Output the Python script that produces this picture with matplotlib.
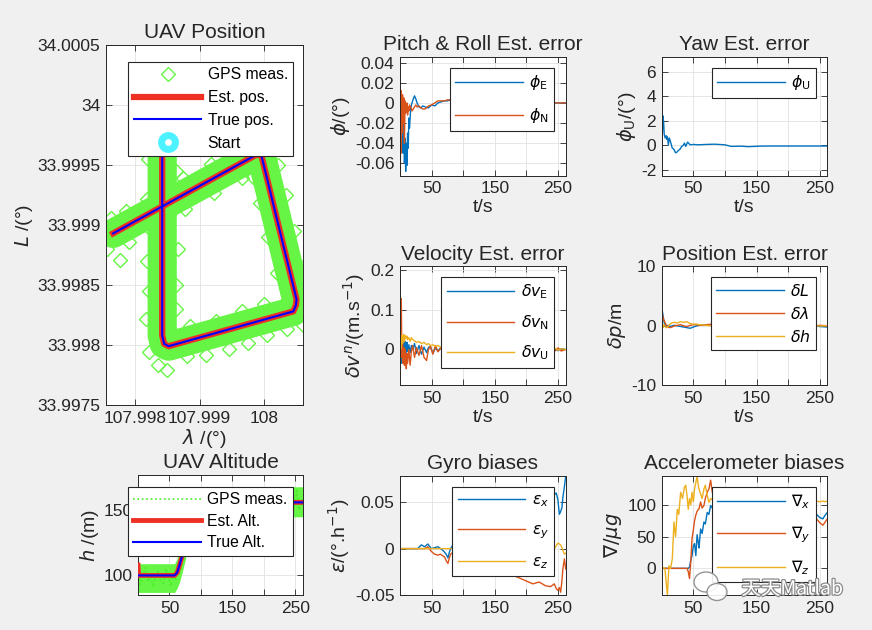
import matplotlib
matplotlib.use('Agg')
import matplotlib.pyplot as plt
import matplotlib.patheffects as pe
from matplotlib.patches import Ellipse

plt.rcParams['font.family'] = ['Liberation Sans', 'DejaVu Sans']
plt.rcParams['mathtext.fontset'] = 'dejavusans'

# ---------------- data ----------------
T_END = 262
time_ticks = [50, 100, 150, 200, 250]
time_tick_labels = ['50', '', '150', '', '250']

# UAV position (deg)
true_lon = [107.99842, 107.99842, 107.99845, 107.99852, 108.00045, 108.00049,
            108.00050, 107.99996, 107.99991, 107.99986, 107.99766]
true_lat = [33.99990, 33.99808, 33.99801, 33.99799, 33.99828, 33.99833,
            33.99838, 33.99957, 33.99959, 33.99958, 33.99893]
est_lon = true_lon
est_lat = true_lat
start_lon = [107.99842]
start_lat = [33.99990]
gps_lon = [107.99820, 107.99864, 107.99818, 107.99866, 107.99822, 107.99864, 107.99817, 107.99863,
           107.99821, 107.99836, 107.99850,
           107.99880, 107.99910, 107.99945, 107.99975, 108.00005, 108.00035,
           107.99885, 107.99925, 107.99965, 108.00000,
           108.00065, 108.00060, 108.00068,
           108.00060, 108.00020, 108.00046, 108.00006, 108.00033, 107.99993, 108.00022, 107.99983,
           108.00006, 107.99990,
           107.99962, 107.99966, 107.99918, 107.99922, 107.99874, 107.99878,
           107.99818, 107.99824, 107.99786, 107.99790, 107.99753, 107.99757, 107.99762, 107.99776]
gps_lat = [33.99955, 33.99945, 33.99870, 33.99880, 33.99845, 33.99850, 33.99822, 33.99830,
           33.99794, 33.99783, 33.99779,
           33.99791, 33.99792, 33.99797, 33.99802, 33.99808, 33.99813,
           33.99816, 33.99820, 33.99828, 33.99834,
           33.99827, 33.99817, 33.99845,
           33.99865, 33.99860, 33.99895, 33.99890, 33.99925, 33.99918, 33.99950, 33.99940,
           33.99970, 33.99976,
           33.99964, 33.99939, 33.99951, 33.99927, 33.99939, 33.99913,
           33.99922, 33.99896, 33.99912, 33.99886, 33.99895, 33.99880, 33.99906, 33.99871]
pos_xticks = [107.998, 107.999, 108.0]
pos_xtick_labels = ['107.998', '107.999', '108']
pos_yticks = [33.9975, 33.998, 33.9985, 33.999, 33.9995, 34.0, 34.0005]
pos_ytick_labels = ['33.9975', '33.998', '33.9985', '33.999', '33.9995', '34', '34.0005']

# UAV altitude (m)
alt_t = [0, 1, 2, 58, 62, 66, 70, 75, 80, 85, 90, 95, 262]
alt_true = [100, 100, 100, 100, 102, 108, 115, 125, 136, 146, 153, 156, 156]
alt_est = [108, 100.5, 100, 100, 102, 108, 115, 125, 136, 146, 153, 156, 156]
gps_alt_t = [0, 4, 8, 12, 16, 20, 24, 28, 32, 36, 40, 44, 48, 52, 56, 60, 64, 68, 72, 76,
             80, 85, 90, 95, 100, 110, 120, 130, 150, 170, 190, 210, 230, 240, 244, 248, 252, 256, 260, 262]
gps_alt = [104, 93, 99, 106, 95, 101, 91, 98, 103, 96, 94, 105, 99, 92, 102, 97, 110, 104, 121, 118,
           140, 139, 158, 150, 163, 148, 160, 153, 166, 149, 158, 151, 162, 147, 160, 152, 165, 150, 158, 154]
gps_band_t = [0, 58, 62, 66, 70, 75, 80, 85, 90, 95, 262]
gps_band_lo = [87, 87, 90, 95, 102, 112, 123, 133, 141, 144, 145]
gps_band_hi = [109, 109, 113, 120, 128, 138, 149, 158, 165, 168, 168]

# Pitch & roll error (deg)
pr_t = [0, 0.5, 1, 1.5, 2, 3, 4, 5, 6, 7, 8, 9, 10, 11, 12, 13, 14, 15, 17, 19,
        21, 23, 25, 27, 30, 33, 36, 40, 45, 50, 55, 60, 65, 70, 75, 80, 100, 150, 200, 240, 262]
phi_E = [0, -0.01, -0.03, 0.002, -0.02, -0.045, -0.01, -0.05, -0.02, -0.06,
         -0.035, -0.068, -0.04, -0.062, -0.03, -0.045, -0.015, -0.025, -0.005, 0.0,
         0.004, 0.007, 0.004, 0.0, -0.004, -0.005, -0.003, -0.004, -0.005, -0.002,
         -0.003, 0.0, 0.001, 0.002, 0.002, 0.003, 0.001, 0.0, 0.0, 0.0, 0.0]
phi_N = [0.045, -0.072, 0.01, -0.05, 0.012, -0.03, 0.008, -0.02, 0.005, -0.04,
         0.002, -0.01, -0.005, 0.0, -0.012, -0.004, -0.008, -0.002, -0.004, -0.008,
         -0.006, -0.004, -0.002, -0.004, -0.003, -0.005, -0.006, -0.006, -0.003, -0.002,
         0.0, 0.002, 0.002, 0.002, 0.003, 0.003, 0.001, 0.0, 0.0, 0.0, 0.0]

# Yaw error (deg)
yaw_t = [0, 0.3, 0.6, 1, 2, 3, 4, 5.5, 7, 8, 9, 10.5, 12, 13, 15, 16.6, 19, 22, 24, 26,
         29, 31.6, 34, 36, 38, 41, 45, 50, 58, 70, 84, 100, 110, 125, 137, 160, 200, 230, 262]
phi_U = [7.2, -2.5, 2.6, 1.0, 2.4, 1.9, 0.9, 0.6, 0.8, 0.5, 0.7, 0.05, 0.6, 0.46, 0.1, -0.2, -0.3,
         -0.6, -0.55, -0.43, -0.3, -0.08, 0.0, 0.19, -0.08, 0.27, 0.05, 0.08, 0.05, 0.08,
         0.1, 0.05, -0.08, -0.06, -0.1, -0.05, -0.05, -0.05, -0.05]

# Velocity error (m/s)
vel_t = [0, 0.3, 0.6, 1, 2, 3, 4, 5, 6, 7, 8, 9, 10, 11, 12, 14, 16, 18, 20, 23,
         26, 30, 34, 38, 42, 45, 48, 52, 56, 60, 65, 70, 80, 100, 150, 200, 245, 250, 255, 262]
dv_E = [0, -0.04, 0.01, -0.02, 0.0, -0.035, 0.02, -0.03, 0.015, -0.01,
        0.02, -0.015, 0.005, 0.018, -0.005, 0.012, -0.008, 0.01, 0.0, 0.015,
        -0.01, 0.01, -0.012, 0.006, -0.008, 0.005, 0.008, -0.01, 0.004, -0.004,
        0.006, 0.0, 0.002, 0.0, 0.0, 0.0, 0.0, -0.003, 0.002, 0.0]
dv_N = [0, 0.05, -0.03, 0.06, 0.129, -0.02, 0.03, -0.035, 0.005, -0.04,
        0.0, -0.025, -0.049, -0.01, -0.035, 0.0, -0.04, -0.005, 0.01, -0.02,
        0.005, -0.015, 0.01, -0.02, -0.028, 0.0, 0.008, -0.012, 0.01, -0.006,
        0.004, 0.0, 0.0, 0.0, 0.0, 0.0, -0.004, 0.004, -0.004, 0.0]
dv_U = [0.21, -0.09, 0.05, 0.0, 0.02, 0.035, 0.015, 0.03, 0.038, 0.02,
        0.035, 0.03, 0.028, 0.034, 0.025, 0.03, 0.02, 0.03, 0.025, 0.022,
        0.018, 0.02, 0.015, 0.018, 0.012, 0.015, 0.01, 0.012, 0.008, 0.01,
        0.005, 0.004, 0.002, 0.0, 0.0, 0.0, 0.003, -0.002, 0.002, 0.0]

# Position error (m)
pe_t = [0, 0.5, 1, 2, 3, 4, 5, 6, 8, 10, 13, 16, 20, 25, 30, 35, 40, 45, 50, 55,
        60, 70, 80, 100, 150, 200, 240, 250, 262]
dL = [0, 0.5, 2.5, 1.8, 1.2, 0.5, 0.3, 0.0, -0.2, 0.1, -0.1, 0.0, 0.1, 0.0, -0.1,
      -0.2, -0.3, -0.4, -0.2, 0.0, 0.1, 0.2, 0.1, 0.0, 0.0, 0.0, 0.0, -0.1, -0.2]
dlam = [8.2, 3.0, 2.0, 1.5, 1.0, 0.9, 0.6, 0.4, 0.0, -0.2, -0.3, -0.2, 0.0, 0.1, 0.2,
        0.0, -0.1, 0.1, 0.2, 0.2, 0.1, 0.2, 0.3, 0.1, 0.0, 0.0, 0.0, 0.1, 0.0]
dh = [7.0, 1.0, 0.0, -0.3, 0.2, 0.1, 0.0, -0.2, -0.3, -0.1, 0.3, 0.5, 0.6, 0.5, 0.7,
      0.6, 0.7, 0.4, 0.3, 0.3, 0.2, 0.1, 0.0, 0.0, 0.0, 0.0, 0.0, 0.0, 0.0]

# Gyro biases (deg/h)
g_t = [0, 28, 33.7, 39, 44, 49.5, 54.7, 60, 64, 68, 70.5, 73, 75.8, 78, 80, 83.7, 86,
       100, 150, 200, 210, 220, 230, 238, 244, 247, 249.6, 252, 254, 256, 257.5, 260, 262]
eps_x = [0, 0, 0.004, 0.002, 0.005, 0.0, 0.001, 0.002, 0.0, -0.002,
         -0.004, -0.006, -0.01, -0.004, 0.0, 0.004, 0.007, 0.02, 0.04, 0.05,
         0.052, 0.055, 0.057, 0.06, 0.058, 0.06, 0.053, 0.037, 0.04, 0.044,
         0.055, 0.067, 0.078]
eps_y = [0, 0, 0.0, 0.0, 0.002, -0.003, -0.006, -0.007, -0.006, -0.008,
         -0.009, -0.013, -0.016, -0.01, -0.006, -0.004, -0.005, -0.01, -0.02, -0.035,
         -0.038, -0.036, -0.04, -0.041, -0.038, -0.043, -0.045, -0.042, -0.047, -0.035,
         -0.022, -0.011, -0.022]
eps_z = [0, 0, 0, 0, 0, 0, 0, 0, 0, 0, 0, 0, 0, 0, 0, 0, 0, 0, 0, 0, 0, 0, 0, 0, 0,
         0.003, 0.006, 0.005, 0.004, 0.001, -0.002, -0.006, -0.005]

# Accelerometer biases (ug)
a_t = [0, 5, 9, 11.5, 14, 16.8, 19.4, 22, 24.7, 27, 30, 33, 36, 38, 40, 42, 44, 46, 48, 50,
       52, 54, 56, 58, 59, 61.6, 64, 66.8, 69, 72, 74.7, 77.4, 80, 100, 150, 200,
       245, 250, 255, 258, 262]
nab_x = [0, 0, 0, 0, 0, 0, 0, 0, 0, 0, 0, 0, 0, 0, 0, 0, 2, 13, 20, 35,
         39, 20, 53, 40, 32, 62, 55, 73, 70, 88, 85, 99, 95, 95, 90, 88, 85, 80, 78, 83, 88]
nab_y = [0, 0, 0, 0, 0, 0, 0, 0, 0, 0, 0, 0, 0, 0, 0, -5, -16, 10, 47, 60,
         75, 84, 90, 93, 93.5, 104.6, 95, 99, 110, 120, 125, 139, 120, 100, 90, 85, 78, 72, 68, 72, 78]
nab_z = [2, 0, -42, 4, 0, 15, 73, 50, 93, 85, 120, 110, 128, 131, 115, 93, 110, 100, 120, 105,
         125, 135, 145.6, 130, 125, 117, 110, 125, 131, 115, 104, 110, 108, 105, 106, 106,
         106, 105, 106, 105, 106]

# ---------------- style ----------------
C_BLUE, C_ORANGE, C_YELLOW = '#0072BD', '#D95319', '#EDB120'
TXT = '#262626'
TICK_FS, LAB_FS, TTL_FS, LEG_FS = 12.5, 14, 15, 11.3
W, H = 872, 630


def rect(l, t, r, b):
    return [l / W, 1 - b / H, (r - l) / W, (b - t) / H]


def style(ax):
    ax.set_facecolor('white')
    for s in ax.spines.values():
        s.set_color(TXT)
        s.set_linewidth(0.7)
    ax.tick_params(direction='in', top=True, right=True, length=4, width=0.6,
                   colors=TXT, labelsize=TICK_FS, pad=4)
    ax.grid(True, color='#e2e2e2', lw=0.6)
    ax.set_axisbelow(True)


def legend(ax, handles, labels, ur_px, spacing, hl=4.3):
    leg = ax.legend(handles, labels, loc='upper right',
                    bbox_to_anchor=(ur_px[0] / W, 1 - ur_px[1] / H),
                    bbox_transform=fig.transFigure, borderaxespad=0,
                    fontsize=LEG_FS, frameon=True, fancybox=False,
                    edgecolor=TXT, framealpha=1, handlelength=hl,
                    handletextpad=0.4, borderpad=0.35, labelspacing=spacing)
    leg.get_frame().set_linewidth(0.8)
    leg.set_zorder(10)
    return leg


def time_axes(ax, ylim, yticks, ylabels, title, ylabel, show_xlabel=True):
    style(ax)
    ax.set_xlim(0, T_END)
    ax.set_ylim(*ylim)
    ax.set_xticks(time_ticks)
    ax.set_xticklabels(time_tick_labels)
    ax.set_yticks(yticks)
    ax.set_yticklabels(ylabels)
    ax.set_title(title, fontsize=TTL_FS, color=TXT, pad=5)
    ax.set_ylabel(ylabel, fontsize=LAB_FS, color=TXT, labelpad=2)
    if show_xlabel:
        ax.set_xlabel('t/s', fontsize=LAB_FS, color=TXT, labelpad=2)


fig = plt.figure(figsize=(8.72, 6.30), dpi=100, facecolor='#f0f0f0')

# ---- UAV Position ----
ax = fig.add_axes(rect(106, 45, 303, 405))
style(ax)
ax.plot(true_lon, true_lat, color='#66f545', lw=21, solid_capstyle='round',
        solid_joinstyle='round', zorder=2)
h_gps, = ax.plot(gps_lon, gps_lat, ls='none', marker='D', ms=7, mfc='none',
                 mec='#66f545', mew=1.0, zorder=2)
h_est, = ax.plot(est_lon, est_lat, color='#ee3024', lw=4.5, zorder=3)
h_true, = ax.plot(true_lon, true_lat, color='#0000ff', lw=1.5, zorder=4)
h_start, = ax.plot(start_lon, start_lat, ls='none', marker='o', ms=10, mfc='none',
                   mec='#4cf2ff', mew=5, zorder=4)
ax.set_xlim(107.99755, 108.0006)
ax.set_ylim(33.9975, 34.0005)
ax.set_xticks(pos_xticks)
ax.set_xticklabels(pos_xtick_labels)
ax.set_yticks(pos_yticks)
ax.set_yticklabels(pos_ytick_labels)
ax.set_title('UAV Position', fontsize=TTL_FS, color=TXT, pad=5)
ax.set_xlabel(r'$\lambda$ /(°)', fontsize=LAB_FS, color=TXT, labelpad=1)
ax.set_ylabel(r'$L$ /(°)', fontsize=LAB_FS, color=TXT, labelpad=2)
legend(ax, [h_gps, h_est, h_true, h_start],
       ['GPS meas.', 'Est. pos.', 'True pos.', 'Start'], (293.3, 61.7), 0.5)

# ---- UAV Altitude ----
ax = fig.add_axes(rect(138, 475, 303, 595))
style(ax)
ax.fill_between(gps_band_t, gps_band_lo, gps_band_hi, color='#66f545', lw=0, zorder=1)
h_ga, = ax.plot(gps_alt_t, gps_alt, color='#44ee22', ls=':', lw=1.2, zorder=2)
h_ea, = ax.plot(alt_t, alt_est, color='#ee3024', lw=3.5, zorder=3)
h_ta, = ax.plot(alt_t, alt_true, color='#0000ff', lw=1.5, zorder=4)
ax.set_xlim(0, T_END)
ax.set_ylim(85, 177)
ax.set_xticks(time_ticks)
ax.set_xticklabels(time_tick_labels)
ax.set_yticks([100, 150])
ax.set_yticklabels(['100', '150'])
ax.set_title('UAV Altitude', fontsize=TTL_FS, color=TXT, pad=5)
ax.set_ylabel(r'$h$ /(m)', fontsize=LAB_FS, color=TXT, labelpad=2)
legend(ax, [h_ga, h_ea, h_ta], ['GPS meas.', 'Est. Alt.', 'True Alt.'], (293, 487), 0.4)

# ---- Pitch & Roll ----
ax = fig.add_axes(rect(400, 57.3, 565.7, 175.7))
time_axes(ax, (-0.0723, 0.0453), [-0.06, -0.04, -0.02, 0, 0.02, 0.04],
          ['-0.06', '-0.04', '-0.02', '0', '0.02', '0.04'],
          'Pitch & Roll Est. error', r'$\phi$/(°)')
l1, = ax.plot(pr_t, phi_E, color=C_BLUE, lw=1.0)
l2, = ax.plot(pr_t, phi_N, color=C_ORANGE, lw=1.0)
legend(ax, [l1, l2], [r'$\phi_\mathrm{E}$', r'$\phi_\mathrm{N}$'], (554.3, 67.7), 0.9)

# ---- Yaw ----
ax = fig.add_axes(rect(661.7, 57.3, 827.3, 175.7))
time_axes(ax, (-2.46, 7.16), [-2, 0, 2, 4, 6], ['-2', '0', '2', '4', '6'],
          'Yaw Est. error', r'$\phi_\mathrm{U}$/(°)')
l1, = ax.plot(yaw_t, phi_U, color=C_BLUE, lw=1.0)
legend(ax, [l1], [r'$\phi_\mathrm{U}$'], (816, 67.7), 0.5)

# ---- Velocity ----
ax = fig.add_axes(rect(400, 266.5, 565.7, 385.3))
time_axes(ax, (-0.0907, 0.21), [0, 0.1, 0.2], ['0', '0.1', '0.2'],
          'Velocity Est. error', r'$\delta v^n$/(m.s$^{-1}$)')
l1, = ax.plot(vel_t, dv_E, color=C_BLUE, lw=1.0)
l2, = ax.plot(vel_t, dv_N, color=C_ORANGE, lw=1.0)
l3, = ax.plot(vel_t, dv_U, color=C_YELLOW, lw=1.0)
legend(ax, [l1, l2, l3], [r'$\delta v_\mathrm{E}$', r'$\delta v_\mathrm{N}$', r'$\delta v_\mathrm{U}$'],
       (554.3, 277.3), 0.75)

# ---- Position error ----
ax = fig.add_axes(rect(661.7, 266.5, 827.3, 385.3))
time_axes(ax, (-10, 10), [-10, 0, 10], ['-10', '0', '10'],
          'Position Est. error', r'$\delta p$/m')
l1, = ax.plot(pe_t, dL, color=C_BLUE, lw=1.0)
l2, = ax.plot(pe_t, dlam, color=C_ORANGE, lw=1.0)
l3, = ax.plot(pe_t, dh, color=C_YELLOW, lw=1.0)
legend(ax, [l1, l2, l3], [r'$\delta L$', r'$\delta \lambda$', r'$\delta h$'], (816, 277.3), 0.45)

# ---- Gyro ----
ax = fig.add_axes(rect(400, 475.7, 565.7, 595))
time_axes(ax, (-0.0495, 0.0786), [-0.05, 0, 0.05], ['-0.05', '0', '0.05'],
          'Gyro biases', r'$\epsilon$/(°.h$^{-1}$)', show_xlabel=False)
l1, = ax.plot(g_t, eps_x, color=C_BLUE, lw=1.0)
l2, = ax.plot(g_t, eps_y, color=C_ORANGE, lw=1.0)
l3, = ax.plot(g_t, eps_z, color=C_YELLOW, lw=1.0)
legend(ax, [l1, l2, l3], [r'$\epsilon_x$', r'$\epsilon_y$', r'$\epsilon_z$'], (554.3, 486.7), 0.85)

# ---- Accelerometer ----
ax = fig.add_axes(rect(661.7, 475.7, 827.3, 595))
time_axes(ax, (-42, 146), [0, 50, 100], ['0', '50', '100'],
          'Accelerometer biases', r'$\nabla/\mu g$', show_xlabel=False)
l1, = ax.plot(a_t, nab_x, color=C_BLUE, lw=1.0)
l2, = ax.plot(a_t, nab_y, color=C_ORANGE, lw=1.0)
l3, = ax.plot(a_t, nab_z, color=C_YELLOW, lw=1.0)
legend(ax, [l1, l2, l3], [r'$\nabla_x$', r'$\nabla_y$', r'$\nabla_z$'], (816, 486.7), 0.85)

# ---- watermark ----
for cx, cy, rw, rh in [(706, 582, 24, 20), (717, 592, 20, 17)]:
    e = Ellipse((cx / W, 1 - cy / H), rw / W, rh / H, transform=fig.transFigure,
                facecolor='white', edgecolor='#8a8a8a', lw=1.0, alpha=0.9, zorder=20)
    fig.add_artist(e)
fig.text(843 / W, 1 - 589 / H, '天天Matlab', ha='right', va='center', fontsize=14,
         color='white', family=['Noto Sans CJK SC', 'DejaVu Sans'], zorder=21,
         path_effects=[pe.withStroke(linewidth=1.8, foreground='#8a8a8a')])

fig.savefig('out.png', dpi=100, facecolor=fig.get_facecolor())
